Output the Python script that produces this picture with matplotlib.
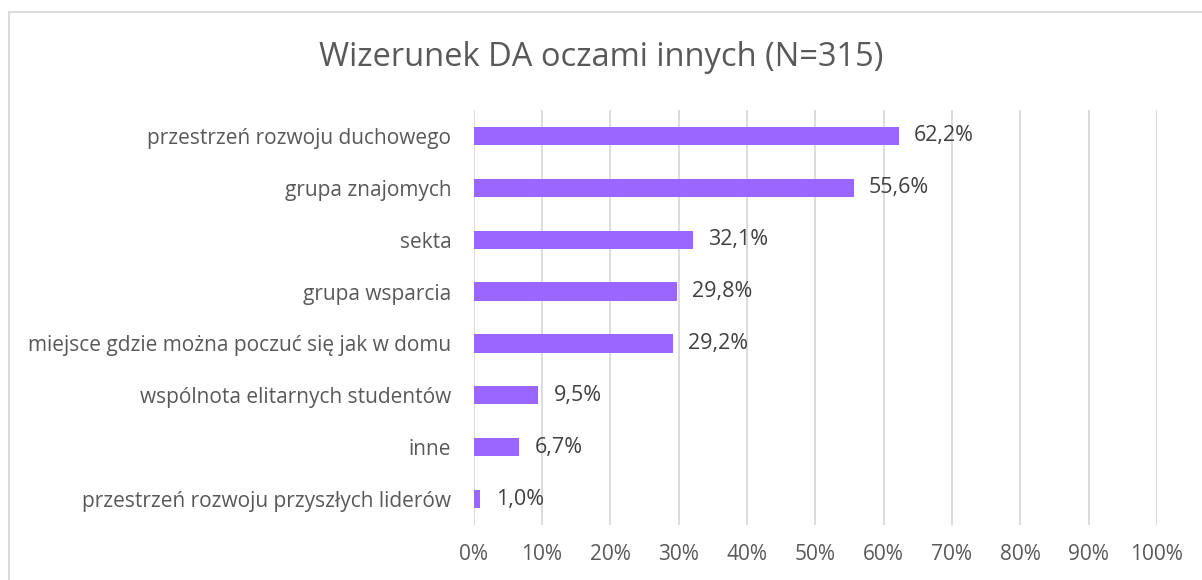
import matplotlib
matplotlib.use("Agg")
import matplotlib.pyplot as plt
from matplotlib.patches import Rectangle
from matplotlib.ticker import FuncFormatter

categories = [
    "przestrzeń rozwoju duchowego",
    "grupa znajomych",
    "sekta",
    "grupa wsparcia",
    "miejsce gdzie można poczuć się jak w domu",
    "wspólnota elitarnych studentów",
    "inne",
    "przestrzeń rozwoju przyszłych liderów",
]
values = [62.2, 55.6, 32.1, 29.8, 29.2, 9.5, 6.7, 1.0]
value_labels = ["62,2%", "55,6%", "32,1%", "29,8%", "29,2%", "9,5%", "6,7%", "1,0%"]
x_ticks = [0, 10, 20, 30, 40, 50, 60, 70, 80, 90, 100]
title = "Wizerunek DA oczami innych (N=315)"

plt.rcParams['font.family'] = ['Open Sans', 'DejaVu Sans']
text_color = "#595959"
value_color = "#404040"
bar_color = "#9966FF"
grid_color = "#D9D9D9"

W, H, DPI = 1202, 580, 100
fig = plt.figure(figsize=(W / DPI, H / DPI), dpi=DPI)
ax = fig.add_axes([473.5 / W, 1 - 525 / H, (1157 - 473.5) / W, (525 - 110) / H])

ypos = list(range(len(categories)))
ax.barh(ypos, values, height=0.35, color=bar_color, zorder=3)
ax.set_ylim(len(categories) - 0.5, -0.5)
ax.set_xlim(0, 100)
ax.set_xticks(x_ticks)
ax.xaxis.set_major_formatter(FuncFormatter(lambda v, p: f"{int(v)}%"))
ax.set_yticks(ypos)
ax.set_yticklabels(categories)
ax.tick_params(axis='both', length=0, colors=text_color, labelsize=15)
ax.tick_params(axis='y', pad=16)
ax.tick_params(axis='x', pad=14)
for s in ax.spines.values():
    s.set_visible(False)
ax.grid(axis='x', color=grid_color, linewidth=1.3, zorder=0)
ax.set_axisbelow(True)

for y, v, lab in zip(ypos, values, value_labels):
    ax.annotate(lab, xy=(v, y), xytext=(11, 0), textcoords='offset points',
                va='center', ha='left', fontsize=15.5, color=value_color)

fig.text(0.5, 1 - 57 / H, title, ha='center', va='center', fontsize=23.5, color=text_color)

fig.patches.append(Rectangle((8.5 / W, -0.1), 1.2, 1.1 - 11.5 / H, transform=fig.transFigure,
                             fill=False, edgecolor=grid_color, linewidth=1.3))

fig.savefig("out.png", dpi=DPI)
